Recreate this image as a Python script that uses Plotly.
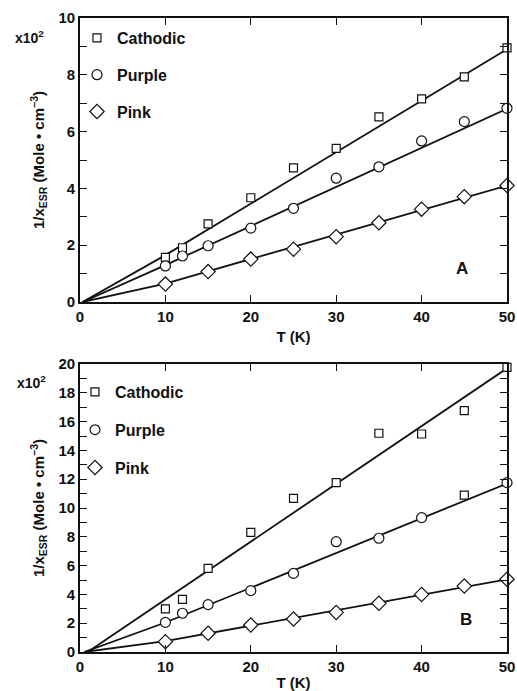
import plotly.graph_objects as go

# ---------------- data ----------------
T_cath_A = [10, 12, 15, 20, 25, 30, 35, 40, 45, 50]
cath_A = [1.57, 1.91, 2.75, 3.67, 4.72, 5.41, 6.52, 7.15, 7.93, 8.95]
T_purp_A = [10, 12, 15, 20, 25, 30, 35, 40, 45, 50]
purp_A = [1.27, 1.62, 1.98, 2.6, 3.3, 4.36, 4.76, 5.67, 6.35, 6.82]
T_pink_A = [10, 15, 20, 25, 30, 35, 40, 45, 50]
pink_A = [0.63, 1.07, 1.51, 1.86, 2.3, 2.79, 3.27, 3.71, 4.1]

T_cath_B = [10, 12, 15, 20, 25, 30, 35, 40, 45, 50]
cath_B = [2.99, 3.66, 5.81, 8.31, 10.67, 11.76, 15.19, 15.14, 16.76, 19.77]
T_purp_B = [10, 12, 15, 20, 25, 30, 35, 40, 45, 50]
purp_B = [2.06, 2.69, 3.29, 4.26, 5.46, 7.66, 7.9, 9.33, 10.9, 11.76]
purp_B_symbols = ["circle"] * 8 + ["square"] + ["circle"]
T_pink_B = [10, 15, 20, 25, 30, 35, 40, 45, 50]
pink_B = [0.72, 1.3, 1.875, 2.29, 2.75, 3.38, 4.0, 4.58, 5.05]

# fitted lines
fitA_T = [0.3, 10, 50]
fitA_cath = [0, 1.65, 8.9]
fitA_purp = [0, 1.3, 6.8]
fitA_pink = [0, 0.65, 4.1]
fitB_cath_T = [0.9, 50]
fitB_cath = [0, 19.7]
fitB_T = [0.5, 10, 50]
fitB_purp = [0, 2.05, 11.7]
fitB_pink = [0, 0.75, 5.05]

x_ticks = [0, 10, 20, 30, 40, 50]
yA_ticks = [0, 2, 4, 6, 8, 10]
yB_ticks = [0, 2, 4, 6, 8, 10, 12, 14, 16, 18, 20]

# ---------------- layout helpers ----------------
W, H = 517, 691
ML, MR, MT, MB = 80, 10, 18, 39
PW, PH = W - ML - MR, H - MT - MB


def px_x(px):
    return (px - ML) / PW


def px_y(py):
    return (H - MB - py) / PH


FONT = "Liberation Sans, Arial, Helvetica, sans-serif"
BLACK = "#111"

fig = go.Figure()


def line(x, y, xa, ya):
    fig.add_trace(go.Scatter(x=x, y=y, mode="lines", xaxis=xa, yaxis=ya,
                             line=dict(color=BLACK, width=1.8), showlegend=False,
                             hoverinfo="skip"))


def marks(x, y, sym, size, name, xa, ya, legend, group):
    fig.add_trace(go.Scatter(x=x, y=y, mode="markers", xaxis=xa, yaxis=ya, name=name,
                             marker=dict(symbol=sym, size=size, color="white", opacity=1,
                                         line=dict(color=BLACK, width=1.2)),
                             cliponaxis=False, legend=legend, legendgroup=group))


# Panel A
line(fitA_T, fitA_cath, "x", "y")
line(fitA_T, fitA_purp, "x", "y")
line(fitA_T, fitA_pink, "x", "y")
marks(T_cath_A, cath_A, "square", 8, "Cathodic", "x", "y", "legend", "a1")
marks(T_purp_A, purp_A, "circle", 10, "Purple", "x", "y", "legend", "a2")
marks(T_pink_A, pink_A, "diamond", 11, "Pink", "x", "y", "legend", "a3")

# Panel B
line(fitB_cath_T, fitB_cath, "x2", "y2")
line(fitB_T, fitB_purp, "x2", "y2")
line(fitB_T, fitB_pink, "x2", "y2")
marks(T_cath_B, cath_B, "square", 8, "Cathodic", "x2", "y2", "legend2", "b1")
fig.add_trace(go.Scatter(x=T_purp_B, y=purp_B, mode="markers", xaxis="x2", yaxis="y2",
                         name="Purple",
                         marker=dict(symbol=purp_B_symbols,
                                     size=[8 if s == "square" else 10 for s in purp_B_symbols],
                                     color="white", opacity=1,
                                     line=dict(color=BLACK, width=1.2)),
                         cliponaxis=False, legend="legend2", legendgroup="b2"))
marks(T_pink_B, pink_B, "diamond", 11, "Pink", "x2", "y2", "legend2", "b3")

axis_common = dict(showline=True, linecolor=BLACK, linewidth=1.6, mirror="ticks",
                   ticks="inside", ticklen=7, tickwidth=1.2, tickcolor=BLACK,
                   showgrid=False, zeroline=False, automargin=False,
                   tickfont=dict(family=FONT, size=15, color=BLACK, weight="bold"))
title_font = dict(family=FONT, size=15, color=BLACK, weight="bold")

ytitle = "1/x<sub>ESR</sub> (Mole \u2022 cm<sup>\u22123</sup>)"

domA = [px_y(302), 1]
domB = [0, px_y(364)]

fig.update_layout(
    width=W, height=H, autosize=False,
    margin=dict(l=ML, r=MR, t=MT, b=MB, autoexpand=False),
    paper_bgcolor="white", plot_bgcolor="white",
    font=dict(family=FONT, color=BLACK),
    xaxis=dict(axis_common, range=[0, 50], tickvals=x_ticks, domain=[0, 1], anchor="y",
               title=dict(text="T (K)", font=title_font, standoff=8)),
    yaxis=dict(axis_common, range=[0, 10], tickvals=yA_ticks, domain=domA, anchor="x",
               minor=dict(dtick=1, ticks="inside", ticklen=7, tickcolor=BLACK, tickwidth=1.2),
               title=dict(text=ytitle, font=title_font, standoff=10)),
    xaxis2=dict(axis_common, range=[0, 50], tickvals=x_ticks, domain=[0, 1], anchor="y2",
                title=dict(text="T (K)", font=title_font, standoff=7)),
    yaxis2=dict(axis_common, range=[0, 20], tickvals=yB_ticks, domain=domB, anchor="x2",
                minor=dict(dtick=1, ticks="inside", ticklen=7, tickcolor=BLACK, tickwidth=1.2),
                title=dict(text=ytitle, font=title_font, standoff=10)),
    legend=dict(x=px_x(77), y=px_y(21), xanchor="left", yanchor="top",
                bgcolor="rgba(0,0,0,0)", tracegroupgap=13,
                font=dict(family=FONT, size=16, color=BLACK, weight="bold")),
    legend2=dict(x=px_x(75), y=px_y(375), xanchor="left", yanchor="top",
                 bgcolor="rgba(0,0,0,0)", tracegroupgap=14,
                 font=dict(family=FONT, size=16, color=BLACK, weight="bold")),
    annotations=[
        dict(text="x10<sup>2</sup>", xref="paper", yref="paper", x=px_x(13), y=px_y(37),
             xanchor="left", yanchor="middle", showarrow=False,
             font=dict(family=FONT, size=14, color=BLACK, weight="bold")),
        dict(text="x10<sup>2</sup>", xref="paper", yref="paper", x=px_x(15), y=px_y(382),
             xanchor="left", yanchor="middle", showarrow=False,
             font=dict(family=FONT, size=14, color=BLACK, weight="bold")),
        dict(text="A", xref="paper", yref="paper", x=px_x(462), y=px_y(268),
             xanchor="center", yanchor="middle", showarrow=False,
             font=dict(family=FONT, size=17, color=BLACK, weight="bold")),
        dict(text="B", xref="paper", yref="paper", x=px_x(466), y=px_y(619),
             xanchor="center", yanchor="middle", showarrow=False,
             font=dict(family=FONT, size=17, color=BLACK, weight="bold")),
    ],
)

fig.write_html("out.html",
               config={"displayModeBar": False},
               post_script="document.body.style.margin='0px';"
                           "document.body.style.overflow='hidden';")
